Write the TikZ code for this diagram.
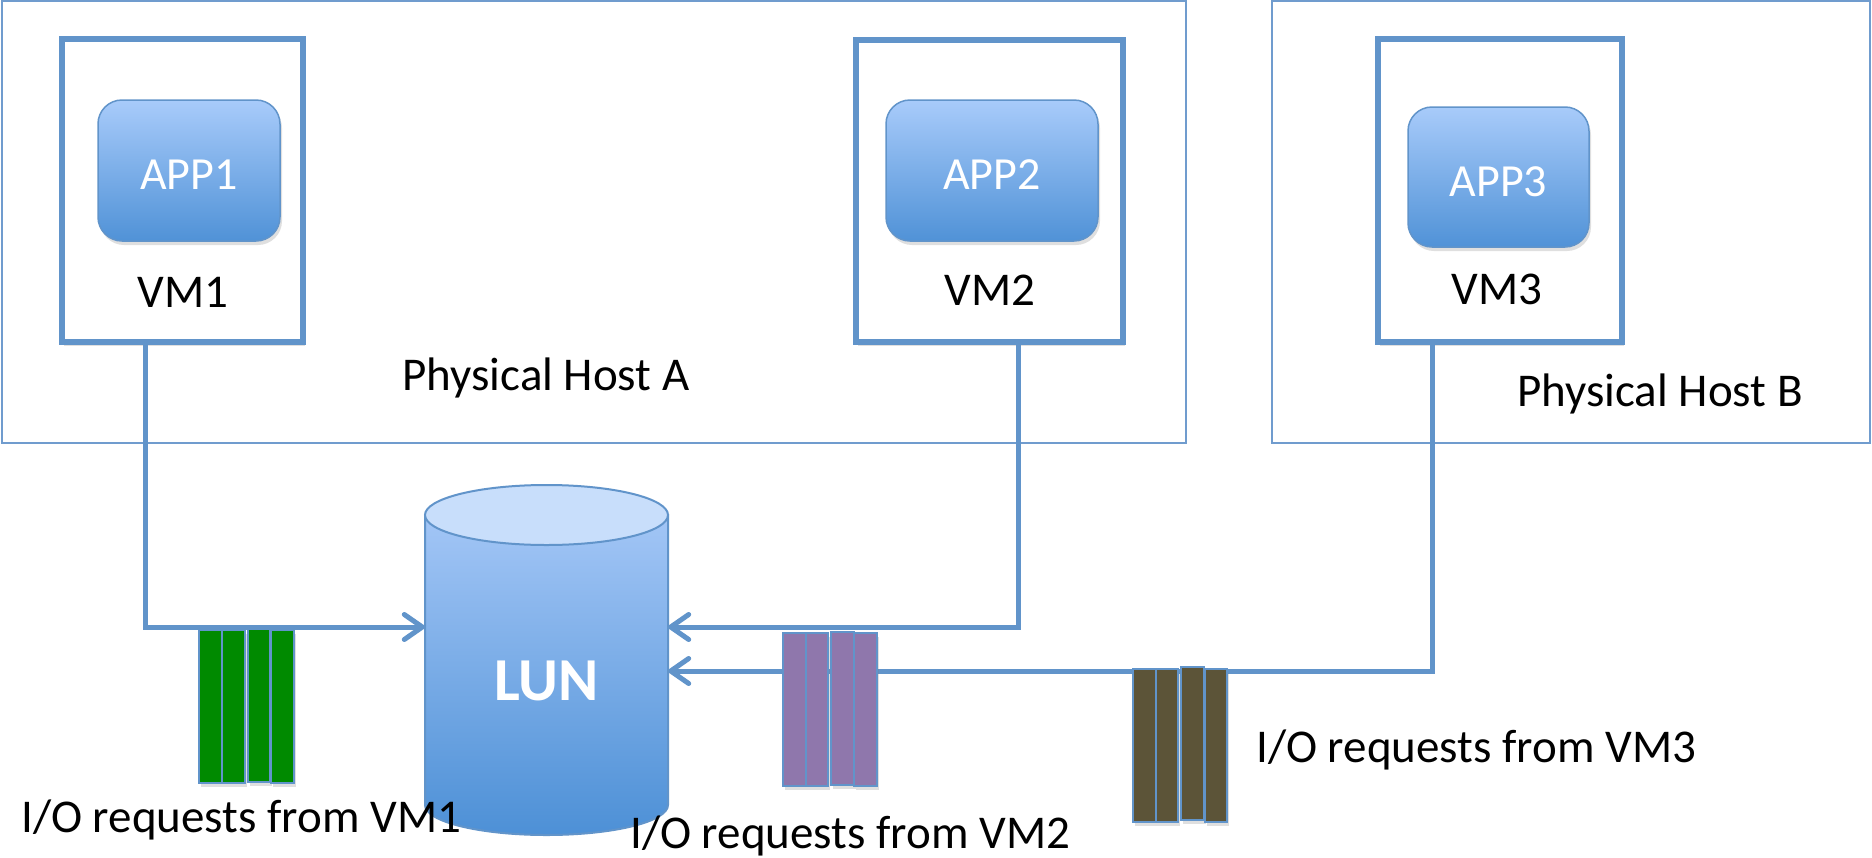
\documentclass[tikz,border=0pt]{standalone}
\usepackage{fontspec}
\setmainfont{Carlito}
\usepackage{xcolor}
\usepackage{tikz}
\usetikzlibrary{arrows.meta,shadows}

\definecolor{linkblue}{RGB}{97,148,202}
\definecolor{hostblue}{RGB}{112,156,206}
\definecolor{appTop}{RGB}{168,203,250}
\definecolor{appBot}{RGB}{80,146,215}
\definecolor{lunTop}{RGB}{163,198,246}
\definecolor{lunBot}{RGB}{77,144,214}
\definecolor{lunCap}{RGB}{200,222,251}
\definecolor{reqgreen}{RGB}{0,138,0}
\definecolor{reqpurple}{RGB}{143,119,172}
\definecolor{reqolive}{RGB}{92,84,56}

\tikzset{
	softshadow/.style = {drop shadow = {opacity = 0.25, shadow xshift = 2pt, shadow yshift = -4pt}},
	hostbox/.style = {draw = hostblue, line width = 2.5pt, inner sep = 0pt},
	vmbox/.style = {draw = linkblue, line width = 5.5pt, fill = white, inner sep = 0pt, softshadow},
	appbox/.style = {draw = linkblue, line width = 1.5pt, rounded corners = 24pt, top color = appTop, bottom color = appBot, text = white, font = \fontsize{46}{55}\selectfont, text height = 38pt, text depth = 0pt, inner sep = 0pt, softshadow},
	lbl/.style = {font = \fontsize{47}{56}\selectfont, inner sep = 0pt},
	luntext/.style = {text = white, font = \fontsize{61}{73}\selectfont\bfseries, inner sep = 0pt},
	lunbody/.style = {top color = lunTop, bottom color = lunBot, draw = linkblue, line width = 2pt},
	reqbar/.style = {draw = linkblue, line width = 2pt, inner sep = 0pt, minimum width = 22.5pt, minimum height = 153pt, anchor = north west, softshadow},
	link/.style = {draw = linkblue, line width = 5pt},
	toLun/.style = {link, -{Straight Barb[length = 18pt, width = 25pt, round]}}
}

\begin{document}
\begin{tikzpicture}[x = 1pt, y = -1pt]
			\useasboundingbox (0,0) rectangle (1872,857);
			\node[hostbox, minimum width = 1184pt, minimum height = 442pt] (hostA) at (594,222) {};
			\node[hostbox, minimum width = 598pt, minimum height = 442pt] (hostB) at (1571,222) {};
			\node[vmbox, minimum width = 241pt, minimum height = 303pt] (vm1) at (182.5,190.5) {};
			\node[vmbox, minimum width = 267pt, minimum height = 302pt] (vm2) at (989.5,191) {};
			\node[vmbox, minimum width = 244pt, minimum height = 303pt] (vm3) at (1500,190.5) {};
			\node[appbox, minimum width = 182pt, minimum height = 141pt] (app1) at (189,170.5) {APP1};
			\node[appbox, minimum width = 212pt, minimum height = 141pt] (app2) at (992,170.5) {APP2};
			\node[appbox, minimum width = 181pt, minimum height = 140pt] (app3) at (1498.5,177) {APP3};
			\node[lbl, anchor = base] (vm1label) at (183,307) {VM1};
			\node[lbl, anchor = base] (vm2label) at (990,305) {VM2};
			\node[lbl, anchor = base] (vm3label) at (1497,304) {VM3};
			\node[lbl, anchor = base] (hostAlabel) at (546,390) {Physical Host A};
			\node[lbl, anchor = base] (hostBlabel) at (1660,406) {Physical Host B};
			\shade[lunbody] (425,515) -- (425,805) arc[start angle = 180, end angle = 360, x radius = 121.5pt, y radius = 30pt] -- (668,515) -- cycle;
			\filldraw[fill = lunCap, draw = linkblue, line width = 2pt] (546.5,515) ellipse [x radius = 121.5pt, y radius = 30pt];
			\node[luntext, minimum width = 243pt] (lun) at (546.5,681) {LUN};
			\draw[toLun] ([xshift = -37.5pt]vm1.south) |- ([yshift = 54pt]lun.west);
			\draw[toLun] ([xshift = 28.5pt]vm2.south) |- ([yshift = 54pt]lun.east);
			\draw[toLun] ([xshift = -68pt]vm3.south) |- ([yshift = 10pt]lun.east);
			\node[reqbar, fill = reqgreen] (g1) at (198,629) {};
			\node[reqbar, fill = reqgreen] (g2) at (221,629) {};
			\node[reqbar, fill = reqgreen] (g3) at (246.5,627.5) {};
			\node[reqbar, fill = reqgreen] (g4) at (270,629) {};
			\node[reqbar, fill = reqpurple] (p1) at (782,632) {};
			\node[reqbar, fill = reqpurple] (p2) at (804.5,632) {};
			\node[reqbar, fill = reqpurple] (p3) at (830,630.5) {};
			\node[reqbar, fill = reqpurple] (p4) at (853,632) {};
			\node[reqbar, fill = reqolive] (o1) at (1132,668) {};
			\node[reqbar, fill = reqolive] (o2) at (1154.5,668) {};
			\node[reqbar, fill = reqolive] (o3) at (1180,666) {};
			\node[reqbar, fill = reqolive] (o4) at (1203.5,668) {};
			\node[lbl, anchor = base west] (req1label) at (21,832) {I/O requests from VM1};
			\node[lbl, anchor = base west] (req2label) at (630,848) {I/O requests from VM2};
			\node[lbl, anchor = base west] (req3label) at (1256,762) {I/O requests from VM3};
		\end{tikzpicture}
\end{document}
